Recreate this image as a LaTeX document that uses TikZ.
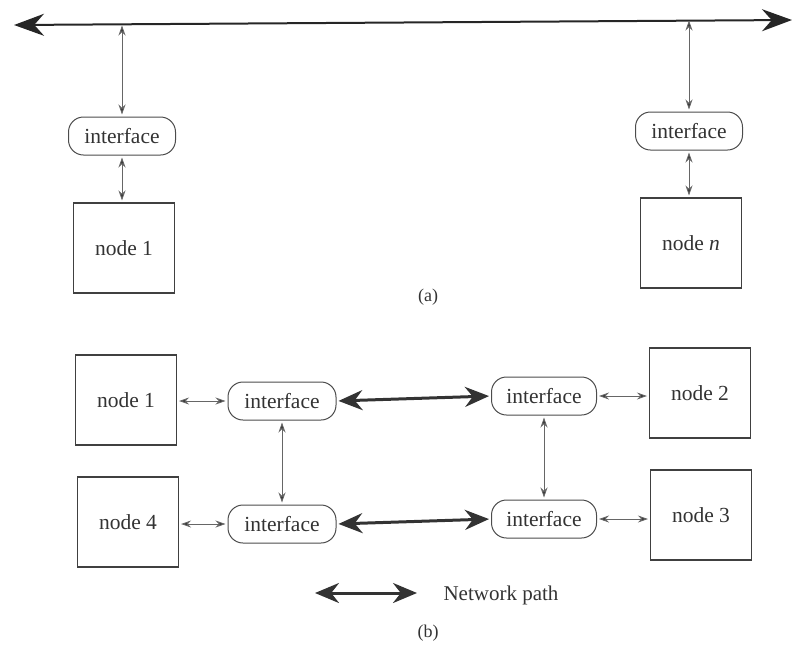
\documentclass[tikz,border=0pt]{standalone}
\usepackage{fontspec}
\setmainfont{Liberation Serif}
\newfontfamily\figserif{Liberation Serif}
\usetikzlibrary{arrows.meta}
\begin{document}
\begin{tikzpicture}[x=1pt,y=-1pt,
  every node/.style={text=black!80, font=\figserif\fontsize{21.5}{25}\selectfont},
  hostbox/.style={draw=black!75, line width=1.1pt, minimum width=101pt, minimum height=90pt, inner sep=0pt},
  iface/.style={draw=black!70, line width=1pt, rounded corners=15pt, minimum width=107pt, minimum height=38pt, inner sep=0pt},
  link/.style={draw=black!60, line width=0.9pt, {Stealth[length=10pt,width=7pt,fill=black!80]}-{Stealth[length=10pt,width=7pt,fill=black!80]}, shorten >=2pt, shorten <=2pt},
  netpath/.style={draw=black!80, line width=3pt, {Stealth[length=24pt,width=20pt]}-{Stealth[length=24pt,width=20pt]}, shorten >=2pt, shorten <=2pt},
  bus/.style={draw=black!85, line width=2pt, {Stealth[length=30pt,width=22pt]}-{Stealth[length=30pt,width=22pt]}},
]
\useasboundingbox (0,0) rectangle (796,649);

% ---- (a) shared bus ----
\coordinate (busL) at (14,25);
\coordinate (busR) at (792,20);
\draw[bus] (busL) -- (busR);

\node[iface] (ia1) at (122,136) {interface};
\node[hostbox] (na1) at (124,248) {node 1};
\node[iface] (ian) at (689,131) {interface};
\node[hostbox] (nan) at (691,243) {node \textit{n}};

\coordinate (tap1) at (122,25.5);
\coordinate (tapn) at (689,20.5);
\draw[link, shorten <=0pt] (tap1) -- (ia1.north);
\draw[link, shorten <=0pt] (tapn) -- (ian.north);
\draw[link] (ia1.south) -- (ia1.south |- na1.north);
\draw[link] (ian.south) -- (ian.south |- nan.north);

\node[font=\figserif\fontsize{18}{21}\selectfont] (capa) at (428,297) {(a)};

% ---- (b) point-to-point network ----
\node[hostbox] (nb1) at (126,400) {node 1};
\node[hostbox] (nb2) at (700,393) {node 2};
\node[hostbox] (nb3) at (701,515) {node 3};
\node[hostbox] (nb4) at (128,522) {node 4};

\node[iface, minimum width=108pt] (ib1) at (282,401) {interface};
\node[iface, minimum width=105pt] (ib2) at (544,396) {interface};
\node[iface, minimum width=105pt] (ib3) at (544,519) {interface};
\node[iface, minimum width=108pt] (ib4) at (282,524) {interface};

\draw[link] (nb1.east |- ib1.west) -- (ib1.west);
\draw[link] (ib2.east) -- (ib2.east -| nb2.west);
\draw[link] (ib3.east) -- (ib3.east -| nb3.west);
\draw[link] (nb4.east |- ib4.west) -- (ib4.west);

\draw[link] (ib1.south) -- (ib4.north);
\draw[link] (ib2.south) -- (ib3.north);

\draw[netpath] (ib1.east) -- (ib2.west);
\draw[netpath] (ib4.east) -- (ib3.west);

% legend
\coordinate (legA) at (315,593);
\coordinate (legB) at (417,593);
\draw[netpath, shorten <=0pt, shorten >=0pt] (legA) -- (legB);
\node[anchor=west, font=\figserif\fontsize{21}{25}\selectfont] (legtxt) at (440,595) {Network path};

\node[font=\figserif\fontsize{18}{21}\selectfont] (capb) at (428,633) {(b)};
\end{tikzpicture}
\end{document}
